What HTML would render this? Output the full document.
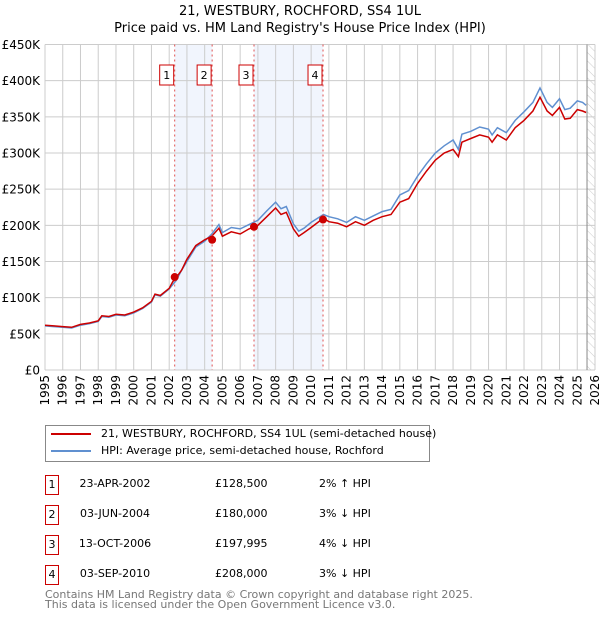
<!DOCTYPE html>
<html><head><meta charset="utf-8"><style>
body{margin:0;background:#fff;font-family:"DejaVu Sans","Liberation Sans",sans-serif;}
#wrap{position:relative;width:600px;height:620px;}
</style></head><body>
<div id="wrap">
<svg id="chart" width="600" height="620" style="position:absolute;left:0;top:0;font-family:'DejaVu Sans','Liberation Sans',sans-serif">
<defs><pattern id="hatch" width="6" height="6" patternUnits="userSpaceOnUse" patternTransform="rotate(-45)"><line x1="0" y1="0" x2="0" y2="6" stroke="#ccc" stroke-width="1"/></pattern></defs>
<text x="300" y="15" text-anchor="middle" font-size="13">21, WESTBURY, ROCHFORD, SS4 1UL</text>
<text x="300" y="32" text-anchor="middle" font-size="13">Price paid vs. HM Land Registry's House Price Index (HPI)</text>
<g id="plot"></g>
</svg>
<div style="position:absolute;left:45px;top:425px;width:383px;height:35px;border:1px solid #888;font-size:11px;white-space:nowrap">
 <div style="position:absolute;left:5px;top:7px;width:40px;height:2px;background:#cc0000"></div>
 <div style="position:absolute;left:55px;top:1px">21, WESTBURY, ROCHFORD, SS4 1UL (semi-detached house)</div>
 <div style="position:absolute;left:5px;top:24px;width:40px;height:2px;background:#6090d0"></div>
 <div style="position:absolute;left:55px;top:18px">HPI: Average price, semi-detached house, Rochford</div>
</div>
<div id="table"></div>
<div style="position:absolute;left:45px;top:590px;font-size:11px;color:#777;line-height:10px;white-space:nowrap">Contains HM Land Registry data © Crown copyright and database right 2025.<br>This data is licensed under the Open Government Licence v3.0.</div>
</div>
<script>
const years=[1995,1995.5,1996,1996.5,1997,1997.5,1998,1998.2,1998.6,1999,1999.5,2000,2000.5,2001,2001.2,2001.5,2002,2002.2,2002.4,2002.7,2003,2003.5,2004,2004.4,2004.8,2005,2005.5,2006,2006.5,2007,2007.5,2008,2008.3,2008.6,2009,2009.3,2009.6,2010,2010.7,2011,2011.5,2012,2012.5,2013,2013.5,2014,2014.5,2015,2015.5,2016,2016.5,2017,2017.5,2018,2018.3,2018.5,2019,2019.5,2020,2020.2,2020.5,2021,2021.5,2022,2022.5,2022.9,2023.3,2023.6,2024,2024.3,2024.6,2025,2025.3,2025.5];
const priceSeries=[62,61,60,59,63,65,68,75,74,77,76,80,86,95,105,103,113,122,128,138,153,172,180,185,196,185,191,188,195,200,212,224,215,218,195,185,190,197,210,205,203,198,205,200,207,212,215,232,237,258,275,290,300,305,295,315,320,325,322,315,325,318,335,345,358,377,358,352,363,347,348,360,358,356];
const hpiSeries=[61,60,59,58,62,64,67,74,73,76,75,79,85,94,104,102,112,118,124,138,150,170,178,188,201,190,197,195,201,207,220,232,223,226,202,192,196,204,215,212,209,204,212,207,213,219,222,242,248,268,285,300,310,318,305,326,330,336,333,325,335,328,345,357,370,390,370,363,375,360,362,372,370,366];
const saleYears=[2002.31,2004.42,2006.78,2010.67];
const salePrices=[128.5,180,198,208];
const yTicks=[0,50,100,150,200,250,300,350,400,450];
const yTickLabels=["£0","£50K","£100K","£150K","£200K","£250K","£300K","£350K","£400K","£450K"];
const saleDates=["23-APR-2002","03-JUN-2004","13-OCT-2006","03-SEP-2010"];
const salePriceLabels=["£128,500","£180,000","£197,995","£208,000"];
const saleDiffs=["2% ↑ HPI","3% ↓ HPI","4% ↓ HPI","3% ↓ HPI"];
const L=45,R=595,T=44.5,B=370;
const x=v=>L+(v-1995)*(R-L)/31;
const y=v=>B-v*(B-T)/450;
const NS="http://www.w3.org/2000/svg";
const g=document.getElementById('plot');
function mk(t,a){const e=document.createElementNS(NS,t);for(const k in a)e.setAttribute(k,a[k]);g.appendChild(e);return e;}
for(const [a,b] of [[0,1],[2,3]]){const r=mk('rect',{x:x(saleYears[a]),y:T,width:x(saleYears[b])-x(saleYears[a]),height:B-T,fill:'#eef2fc',opacity:0.8});

}
const hz=mk('rect',{x:x(2025.55),y:T,width:R-x(2025.55),height:B-T,fill:'url(#hatch)'});


for(let yr=1995;yr<=2026;yr++){const l=mk('line',{x1:x(yr),x2:x(yr),y1:T,y2:B,stroke:'#ccc','stroke-width':1});


const t=mk('text',{x:0,y:0,'font-size':12,'text-anchor':'end',transform:`translate(${x(yr)+4},375) rotate(-90)`});t.textContent=yr;

}
yTicks.forEach((v,i)=>{const l=mk('line',{x1:L,x2:R,y1:y(v),y2:y(v),stroke:'#ccc','stroke-width':1});


const t=mk('text',{x:40,y:y(v)+4.5,'font-size':12,'text-anchor':'end'});t.textContent=yTickLabels[i];

});
const ll=mk('line',{x1:x(2025.55),x2:x(2025.55),y1:T,y2:B,stroke:'#888'});


const pts=s=>s.map((v,i)=>x(years[i]).toFixed(1)+','+y(v).toFixed(1)).join(' ');
const hp=mk('polyline',{points:pts(hpiSeries),fill:'none',stroke:'#6090d0','stroke-width':1.5});


const pp=mk('polyline',{points:pts(priceSeries),fill:'none',stroke:'#cc0000','stroke-width':1.5});


saleYears.forEach((sy,i)=>{const vl=mk('line',{x1:x(sy),x2:x(sy),y1:T,y2:B,stroke:'#e05050','stroke-dasharray':'2,3','stroke-width':1});


const c=mk('circle',{cx:x(sy),cy:y(salePrices[i]),r:4,fill:'#cc0000'});


const bx=mk('rect',{x:x(sy)-15,y:65,width:14,height:20,fill:'#fff',stroke:'#cc0000'});


const t=mk('text',{x:x(sy)-8,y:79,'font-size':11,'text-anchor':'middle'});t.textContent=i+1;

});
const tb=document.getElementById('table');
saleDates.forEach((d,i)=>{const top=475+i*30;
const row=document.createElement('div');


row.style.cssText=`position:absolute;left:0;top:${top}px;width:600px;height:20px;font-size:11px;white-space:nowrap`;
row.innerHTML=`<div style="position:absolute;left:45px;top:0;width:12px;height:18px;border:1px solid #cc0000;text-align:center;line-height:17px">${i+1}</div><div style="position:absolute;left:70px;width:90px;text-align:center;top:2px">${d}</div><div style="position:absolute;left:215px;top:2px">${salePriceLabels[i]}</div><div style="position:absolute;left:319px;top:2px">${saleDiffs[i]}</div>`;
tb.appendChild(row);});
</script>
</body></html>
